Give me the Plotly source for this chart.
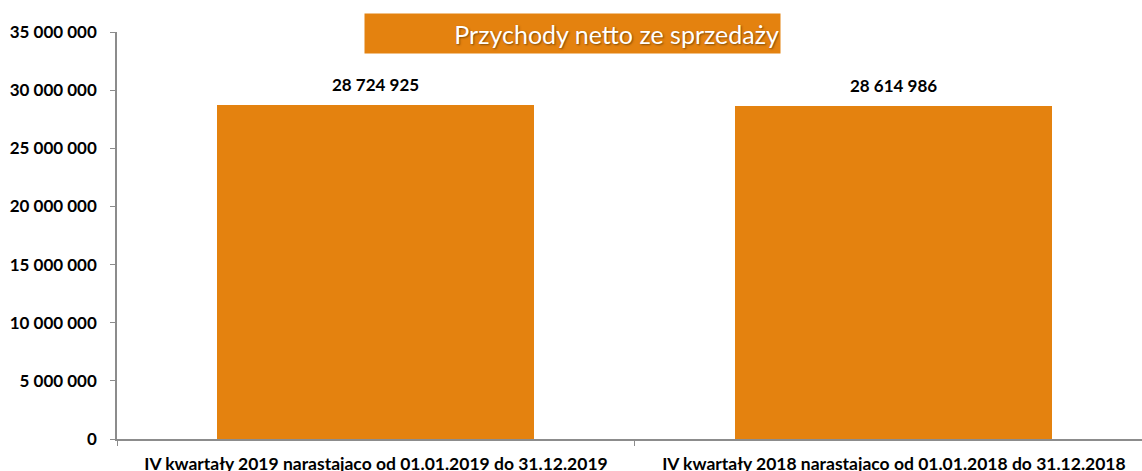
import plotly.graph_objects as go

categories = ["IV kwartały 2019 narastajaco od 01.01.2019 do 31.12.2019",
              "IV kwartały 2018 narastajaco od 01.01.2018 do 31.12.2018"]
values = [28724925, 28614986]
title_text = "Przychody netto ze sprzedaży"

orange = "#E4820F"
font_family = "Lato, Open Sans, sans-serif"

fig = go.Figure(go.Bar(
    x=categories, y=values, width=0.612,
    marker=dict(color=orange, line=dict(width=0)),
    hoverinfo="x+y",
))

for c, v in zip(categories, values):
    fig.add_annotation(
        x=c, y=v, xref="x", yref="y", yanchor="bottom", yshift=8,
        text=f"{v:,d}".replace(",", " "), showarrow=False,
        font=dict(family=font_family, size=17, color="#000000", weight="bold"),
    )

fig.update_layout(
    width=1142, height=471,
    margin=dict(l=117, r=0, t=32, b=32),
    paper_bgcolor="white", plot_bgcolor="white",
    separators=". ",
    showlegend=False,
    bargap=0,
    xaxis=dict(
        range=[-0.5, 1.479], showline=True, linecolor="#8C8C8C", linewidth=1.5,
        ticks="outside", tickson="boundaries", ticklen=5, tickcolor="#8C8C8C",
        tickfont=dict(family=font_family, size=17.5, color="#000000", weight="bold"),
        showgrid=False, zeroline=False, automargin=False, ticklabelstandoff=8,
    ),
    yaxis=dict(
        range=[0, 35000000], dtick=5000000, tickformat=",d",
        showline=True, linecolor="#8C8C8C", linewidth=1.5,
        ticks="outside", ticklen=5, tickcolor="#8C8C8C",
        tickfont=dict(family=font_family, size=17, color="#000000", weight="bold"),
        showgrid=False, zeroline=False, ticklabelstandoff=10, automargin=False,
    ),
)
fig.add_annotation(
    text=title_text, xref="paper", yref="paper",
    x=(364 - 117) / 1025, y=(471 - 32 - 13) / 407, xanchor="left", yanchor="top",
    width=413, height=37, align="right", valign="middle", bgcolor=orange, borderpad=1,
    showarrow=False,
    font=dict(family=font_family, size=25, color="#FFFFFF",
              shadow="1px 1px 2px rgba(90,50,0,0.7)"),
)

fig.write_html("out.html", config={"displayModeBar": False},
               post_script="document.body.style.margin='0';")
